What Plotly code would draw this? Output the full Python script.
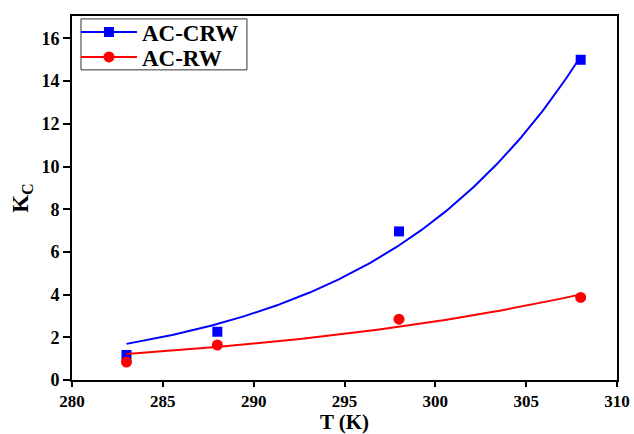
import numpy as np
import plotly.graph_objects as go

# Temperature (K) and equilibrium constant Kc for each adsorbent
temperature = [283, 288, 298, 308]
kc_ac_crw = [1.17, 2.26, 6.96, 15.0]
kc_ac_rw = [0.84, 1.64, 2.85, 3.87]

series_names = ["AC-CRW", "AC-RW"]
series_colors = ["#0000ff", "#ff0000"]
series_symbols = ["square", "circle"]
legend_ids = ["legend", "legend2"]


def exp_fit(x, y, iters=200):
    """Least-squares fit of y = a*exp(b*(x - x0)) by Gauss-Newton."""
    x = np.asarray(x, float)
    y = np.asarray(y, float)
    x0 = x[0]
    t = x - x0
    b, loga = np.polyfit(t, np.log(y), 1)
    a = np.exp(loga)
    for _ in range(iters):
        f = a * np.exp(b * t)
        J = np.column_stack([np.exp(b * t), a * t * np.exp(b * t)])
        step, *_ = np.linalg.lstsq(J, y - f, rcond=None)
        a += step[0]
        b += step[1]
    return lambda xx: a * np.exp(b * (np.asarray(xx, float) - x0))


fig = go.Figure()
xs = np.linspace(temperature[0], temperature[-1], 200)

for name, ys, col, sym, lg in zip(series_names, [kc_ac_crw, kc_ac_rw], series_colors,
                                  series_symbols, legend_ids):
    f = exp_fit(temperature, ys)
    msize = 10 if sym == "square" else 11
    fig.add_trace(go.Scatter(x=xs, y=f(xs), mode="lines", line=dict(color=col, width=2),
                             showlegend=False, hoverinfo="skip"))
    fig.add_trace(go.Scatter(x=temperature, y=ys, mode="markers",
                             marker=dict(color=col, symbol=sym, size=msize),
                             showlegend=False, name=name))
    # legend entry: line with marker
    fig.add_trace(go.Scatter(x=[None], y=[None], mode="lines+markers", name=name,
                             line=dict(color=col, width=2), legend=lg,
                             marker=dict(color=col, symbol=sym, size=msize)))

serif = "Liberation Serif"
axis_common = dict(showline=True, linecolor="black", linewidth=2, mirror=True,
                   ticks="outside", tickwidth=2, tickcolor="black",
                   showgrid=False, zeroline=False, automargin=False)

fig.update_xaxes(range=[280, 310], dtick=5, tick0=280, ticklen=5,
                 tickfont=dict(family=serif, size=17, color="black", weight="bold"),
                 title=dict(text="T (K)", standoff=0,
                            font=dict(family=serif, size=21, color="black", weight="bold")),
                 **axis_common)
fig.update_yaxes(range=[0, 17.05], dtick=2, tick0=0, ticklen=7,
                 tickfont=dict(family=serif, size=18, color="black", weight="bold"),
                 title=dict(text="K<sub>C</sub>", standoff=6,
                            font=dict(family=serif, size=23, color="black", weight="bold")),
                 **axis_common)

legend_style = dict(xanchor="left", yanchor="middle", bgcolor="rgba(0,0,0,0)", borderwidth=0,
                    font=dict(family=serif, size=23, color="black", weight="bold"),
                    itemwidth=56)

fig.update_layout(
    width=634, height=434,
    margin=dict(l=72, r=17, t=15, b=54),
    plot_bgcolor="white", paper_bgcolor="white",
    legend=dict(x=0.0073, y=0.953, **legend_style),
    legend2=dict(x=0.0073, y=0.885, **legend_style),
    shapes=[dict(type="rect", xref="paper", yref="paper", x0=0.0165, x1=0.321, y0=0.852, y1=0.992,
                 line=dict(color="#333333", width=1), fillcolor="rgba(0,0,0,0)", layer="below")],
)

fig.write_html("out.html")
